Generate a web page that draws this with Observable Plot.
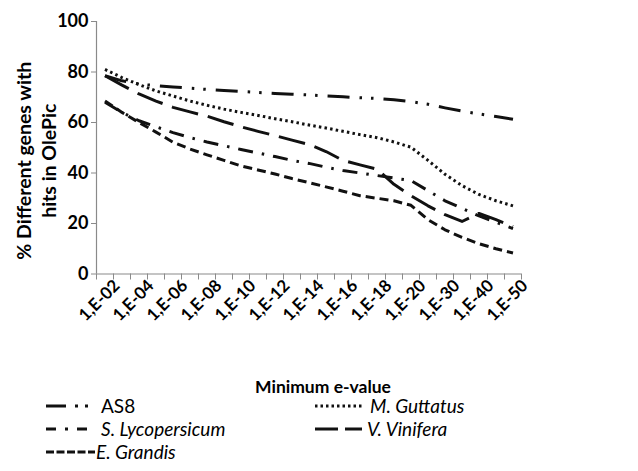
<!DOCTYPE html>
<html><head><meta charset="utf-8">
<script src="https://cdn.jsdelivr.net/npm/d3@7"></script>
<script src="https://cdn.jsdelivr.net/npm/@observablehq/plot@0.6"></script>
<style>
body{margin:0;background:#fff;font-family:Lato,"Open Sans",sans-serif;}
#xtitle{width:638px;height:14px;line-height:22px;padding-top:1px;box-sizing:border-box;text-align:center;padding-left:8px;
  font-weight:bold;font-size:17.5px;color:#000;overflow:visible;white-space:nowrap;}
#legend{display:block}
#legend svg, #chart svg{display:block}
</style></head><body><div id="chart"></div><div id="xtitle"></div><div id="legend"></div>
<script>
// ---- data ----
const categories = ["1,E-02","1,E-03","1,E-04","1,E-05","1,E-06","1,E-07","1,E-08","1,E-09","1,E-10","1,E-11","1,E-12","1,E-13","1,E-14","1,E-15","1,E-16","1,E-17","1,E-18","1,E-19","1,E-20","1,E-25","1,E-30","1,E-35","1,E-40","1,E-45","1,E-50"];
const seriesNames = ["AS8","M. Guttatus","S. Lycopersicum","V. Vinifera","E. Grandis"];
const as8 = [78.5,76.5,75.2,74.6,74.1,73.6,73.1,72.7,72.3,71.9,71.5,71.2,70.9,70.5,70.2,69.8,69.5,69.0,68.3,67.2,65.8,64.5,63.4,62.4,61.3];
const mGuttatus = [81,77.8,75,72.5,70.5,68.5,66.8,65.3,64,62.8,61.5,60.3,59,57.8,56.5,55.2,54,52.3,50.2,45,39.5,35,31.5,29,27];
const sLycopersicum = [68,64,60.7,58.3,56,54,52.3,50.8,49.3,47.9,46.5,45,43.8,42.3,41,40,39,38,37,33,29,26,23,20.5,18];
const vVinifera = [78.5,74.8,71.3,68.5,66,64.2,62.5,60.3,58.3,56.5,54.8,53,51.3,48.5,45,43.2,41.5,35.5,31,27,23.5,20.8,24,21.5,18.8];
const eGrandis = [68.5,64,60,56.2,52.2,49.5,47.2,45,42.8,41.2,39.6,37.8,36.2,34.5,32.8,31,30,29,27.2,21.5,17.5,14.5,12,10,8.3];
const yTicks = [0,20,40,60,80,100];
const xTitle = "Minimum e-value";
const yTitle = "% Different genes with\nhits in OlePic";

// ---- styles ----
const dashes = {
  "AS8": "22,10,2.5,9,2.5,10",
  "M. Guttatus": "2.5,3.2",
  "S. Lycopersicum": "15,9,2.5,9",
  "V. Vinifera": "27,10",
  "E. Grandis": "9,5"
};
const legendDashes = {
  "AS8": "20,9,3,7,3,30",
  "M. Guttatus": "2.5,3",
  "S. Lycopersicum": "10,9,3,9,10,30",
  "V. Vinifera": "23,7,30",
  "E. Grandis": "8,2.5"
};

const valuesBySeries = [as8, mGuttatus, sLycopersicum, vVinifera, eGrandis];
const table = seriesNames.flatMap((name, s) => valuesBySeries[s].map((v, i) => ({name, i, v})));

const lineMarks = seriesNames.map(name =>
  Plot.line(table.filter(d => d.name === name), {
    x: "i", y: "v", stroke: "#111", strokeWidth: 3,
    strokeDasharray: dashes[name], strokeLinecap: "butt", strokeLinejoin: "round"
  })
);

const boundaries = d3.range(categories.length + 1).map(i => i - 0.5);
const labelIdx = d3.range(0, categories.length, 2);

const chart = Plot.plot({
  width: 638, height: 375,
  marginLeft: 96, marginRight: 117, marginTop: 21, marginBottom: 101.5,
  style: {fontFamily: "Lato, 'Open Sans', sans-serif", color: "#000", background: "#fff"},
  x: {type: "linear", domain: [-0.5, categories.length - 0.5], axis: null},
  y: {domain: [0, 100], axis: null},
  marks: [
    Plot.ruleX([-0.5], {stroke: "#8a8a8a", strokeWidth: 1.2}),
    Plot.ruleY([0], {stroke: "#8a8a8a", strokeWidth: 1.2}),
    Plot.axisX(boundaries, {tickSize: 6, stroke: "#8a8a8a", tickFormat: () => "", label: null}),
    Plot.axisX(labelIdx, {tickSize: 0, tickPadding: 9, tickRotate: -45, tickFormat: i => categories[i], dx: 12,
      fontWeight: "bold", fontSize: 17, label: null}),
    Plot.axisY(yTicks, {tickSize: 5, stroke: "#8a8a8a", tickPadding: 3, fontWeight: "bold", fontSize: 18, label: null}),
    Plot.text([yTitle], {frameAnchor: "left", rotate: -90, dx: -61, dy: 13,
      fontWeight: "bold", fontSize: 19.5, lineHeight: 1.3, textAnchor: "middle"}),
    ...lineMarks
  ]
});
document.getElementById("chart").appendChild(chart);
document.getElementById("xtitle").textContent = xTitle;

// ---- legend ----
const legendLayout = [
  {name: "AS8", col: 0, row: 0, italic: false, w: 44, gap: 11},
  {name: "M. Guttatus", col: 1, row: 0, italic: true, w: 47, gap: 8},
  {name: "S. Lycopersicum", col: 0, row: 1, italic: true, w: 44, gap: 11},
  {name: "V. Vinifera", col: 1, row: 1, italic: true, w: 47, gap: 5},
  {name: "E. Grandis", col: 0, row: 2, italic: true, w: 49, gap: 1}
];
const colX = [46, 315];
const rowY = [17, 40, 63];
const lg = d3.select("#legend").append("svg").attr("width", 638).attr("height", 82)
  .style("font-family", "Lato, 'Open Sans', sans-serif");
legendLayout.forEach(d => {
  const x0 = colX[d.col], y0 = rowY[d.row];
  lg.append("line").attr("x1", x0).attr("x2", x0 + d.w).attr("y1", y0).attr("y2", y0)
    .attr("stroke", "#111").attr("stroke-width", 3).attr("stroke-dasharray", legendDashes[d.name]);
  lg.append("text").attr("x", x0 + d.w + d.gap).attr("y", y0)
    .attr("dy", "0.35em").attr("font-size", 19).attr("font-style", d.italic ? "italic" : "normal")
    .attr("fill", "#000").text(d.name);
});
</script>
</body></html>
